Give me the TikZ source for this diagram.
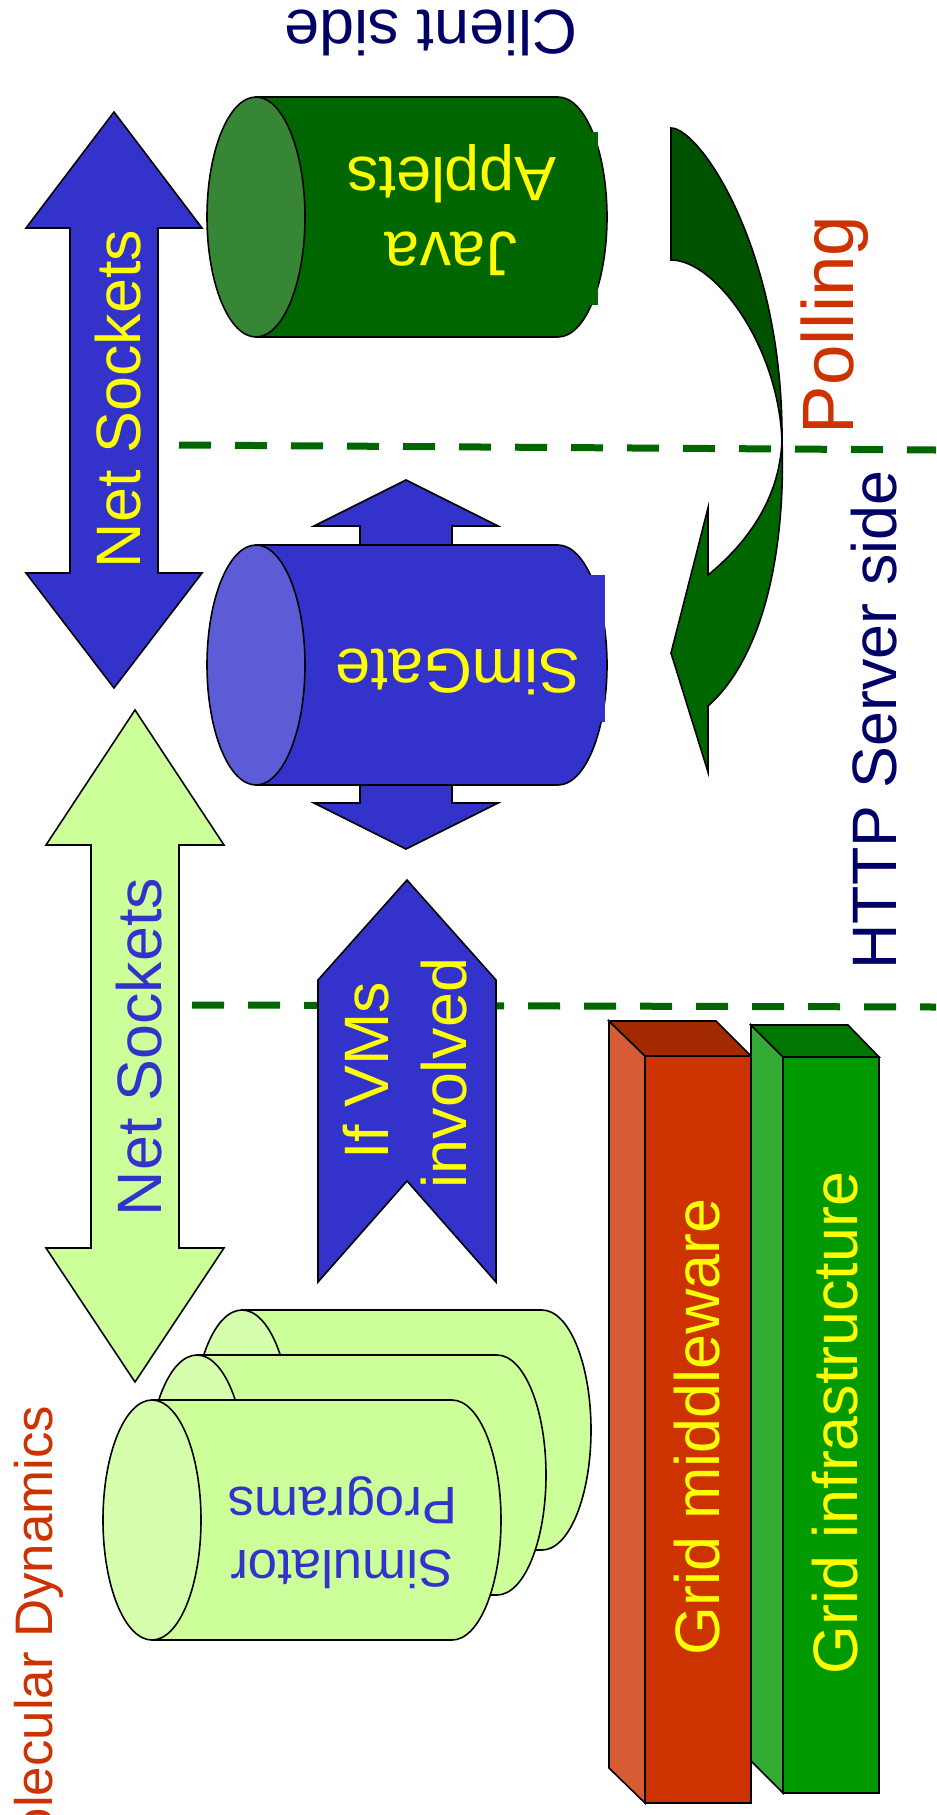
\documentclass[tikz,border=0pt]{standalone}
\usepackage{fontspec}
\setmainfont{Liberation Sans}
\usepackage{tikz}
\definecolor{navytext}{HTML}{000066}
\definecolor{simblue}{HTML}{3333CC}
\definecolor{simcap}{HTML}{5C5CD6}
\definecolor{javagreen}{HTML}{006600}
\definecolor{javacap}{HTML}{368636}
\definecolor{pollgreen}{HTML}{005200}
\definecolor{paleg}{HTML}{CCFF99}
\definecolor{palecap}{HTML}{D6FFAD}
\definecolor{rust}{HTML}{CC3300}
\definecolor{rustside}{HTML}{D65C33}
\definecolor{rusttop}{HTML}{A32900}
\definecolor{gridg}{HTML}{009900}
\definecolor{gridgside}{HTML}{33AA33}
\definecolor{gridgtop}{HTML}{007700}
\definecolor{ylw}{HTML}{FFFF00}
\definecolor{dashg}{HTML}{006600}
% cylinder lying on its side: [body][cap](left x,y)(right x)
\def\drawcyl[#1][#2](#3,#4)(#5){%
  \draw[fill=#1] (#3,#4+120) -- (#5,#4+120) arc (90:-90:49 and 120) -- (#3,#4-120) -- cycle;
  \draw[fill=#2] (#3,#4) ellipse (49 and 120);}

\begin{document}
\begin{tikzpicture}[x=1bp,y=1bp,line width=1.6pt,
  lbl/.style={inner sep=0pt,font=\fontsize{63}{75}\selectfont},
  small lbl/.style={inner sep=0pt,font=\fontsize{53}{63}\selectfont},
  divider/.style={dashg,line width=7bp,dash pattern=on 32bp off 24bp}]
		%%%%% START %%%%%
		\useasboundingbox (0,0) rectangle (936,-1815);
		\clip (0,0) rectangle (936,-1815);
		
		\draw[divider] (179,-445) -- (936,-450);
		\draw[divider] (192,-1005) -- (936,-1007);
		
		\draw[fill=simblue] (114,-112) -- (202,-228) -- (158,-228) -- (158,-573) -- (202,-573) -- (114,-688) -- (26,-573) -- (70,-573) -- (70,-228) -- (26,-228) -- cycle;
		\node[lbl,ylw,rotate=90,anchor=base] (sock1) at (140,-399) {Net Sockets};
		
		\drawcyl[javagreen][javacap](256,-217)(558)
		\fill[javagreen] (560,-132) rectangle (598,-305);
		\node[lbl,ylw,rotate=180,anchor=base] (java) at (451,-232) {Java};
		\node[lbl,ylw,rotate=180,anchor=base] (applets) at (452,-157) {Applets};
		
		\draw[fill=simblue] (406,-480) -- (498,-526) -- (452,-526) -- (452,-803) -- (498,-803) -- (406,-849) -- (314,-803) -- (360,-803) -- (360,-526) -- (314,-526) -- cycle;
		\drawcyl[simblue][simcap](256,-665)(558)
		\fill[simblue] (560,-575) rectangle (605,-722);
		\node[lbl,ylw,rotate=180,anchor=base] (simgate) at (458,-649) {SimGate};
		
		\draw[fill=pollgreen] (671,-128) .. controls (700,-128) and (783,-250) .. (782,-440) .. controls (778,-345) and (715,-260) .. (671,-260) -- cycle;
		\draw[fill=javagreen] (782,-440) .. controls (786,-560) and (760,-660) .. (708,-706) -- (708,-772) -- (671,-653) -- (708,-508) -- (708,-575) .. controls (745,-545) and (780,-500) .. (782,-440) -- cycle;
		\node[lbl,rust,rotate=90,anchor=base,font=\fontsize{73}{80}\selectfont] (poll) at (853,-325) {Polling};
		
		\node[lbl,navytext,rotate=90,anchor=base] (http) at (896,-720) {HTTP Server side};
		\node[lbl,navytext,rotate=180,anchor=base] (client) at (431,-10) {Client side};
		
		\draw[fill=paleg] (135,-710) -- (224,-845) -- (179,-845) -- (179,-1248) -- (224,-1248) -- (135,-1382) -- (46,-1248) -- (91,-1248) -- (91,-845) -- (46,-845) -- cycle;
		\node[lbl,simblue,rotate=90,anchor=base] (sock2) at (161,-1047) {Net Sockets};
		
		\draw[fill=simblue] (407,-880) -- (496,-980) -- (496,-1282) -- (407,-1181) -- (318,-1282) -- (318,-980) -- cycle;
		\node[lbl,ylw,rotate=90,anchor=base] (ifvm) at (388,-1071) {If VMs};
		\node[lbl,ylw,rotate=90,anchor=base] (involved) at (466,-1073) {involved};
		
		\drawcyl[paleg][palecap](242,-1430)(542)
		\drawcyl[paleg][palecap](197,-1475)(497)
		\drawcyl[paleg][palecap](152,-1520)(452)
		\node[small lbl,simblue,rotate=180,anchor=base] (simu) at (342,-1550) {Simulator};
		\node[small lbl,simblue,rotate=180,anchor=base] (progs) at (343,-1487) {Programs};
		
		\draw[fill=rustside] (609,-1021) -- (645,-1056) -- (645,-1803) -- (609,-1768) -- cycle;
		\draw[fill=rusttop] (609,-1021) -- (716,-1021) -- (751,-1056) -- (645,-1056) -- cycle;
		\draw[fill=rust] (645,-1056) rectangle (751,-1803);
		\node[lbl,ylw,rotate=90,anchor=base] (mid) at (719,-1427) {Grid middleware};
		
		\draw[fill=gridgside] (751,-1025) -- (783,-1057) -- (783,-1793) -- (751,-1761) -- cycle;
		\draw[fill=gridgtop] (751,-1025) -- (848,-1025) -- (879,-1057) -- (783,-1057) -- cycle;
		\draw[fill=gridg] (783,-1057) rectangle (879,-1793);
		\node[lbl,ylw,rotate=90,anchor=base] (infra) at (857,-1423) {Grid infrastructure};
		
		\node[small lbl,rust,rotate=90,anchor=base east] (md) at (52,-1405) {Molecular Dynamics};
		%%%%% END %%%%%
\end{tikzpicture}
\end{document}
